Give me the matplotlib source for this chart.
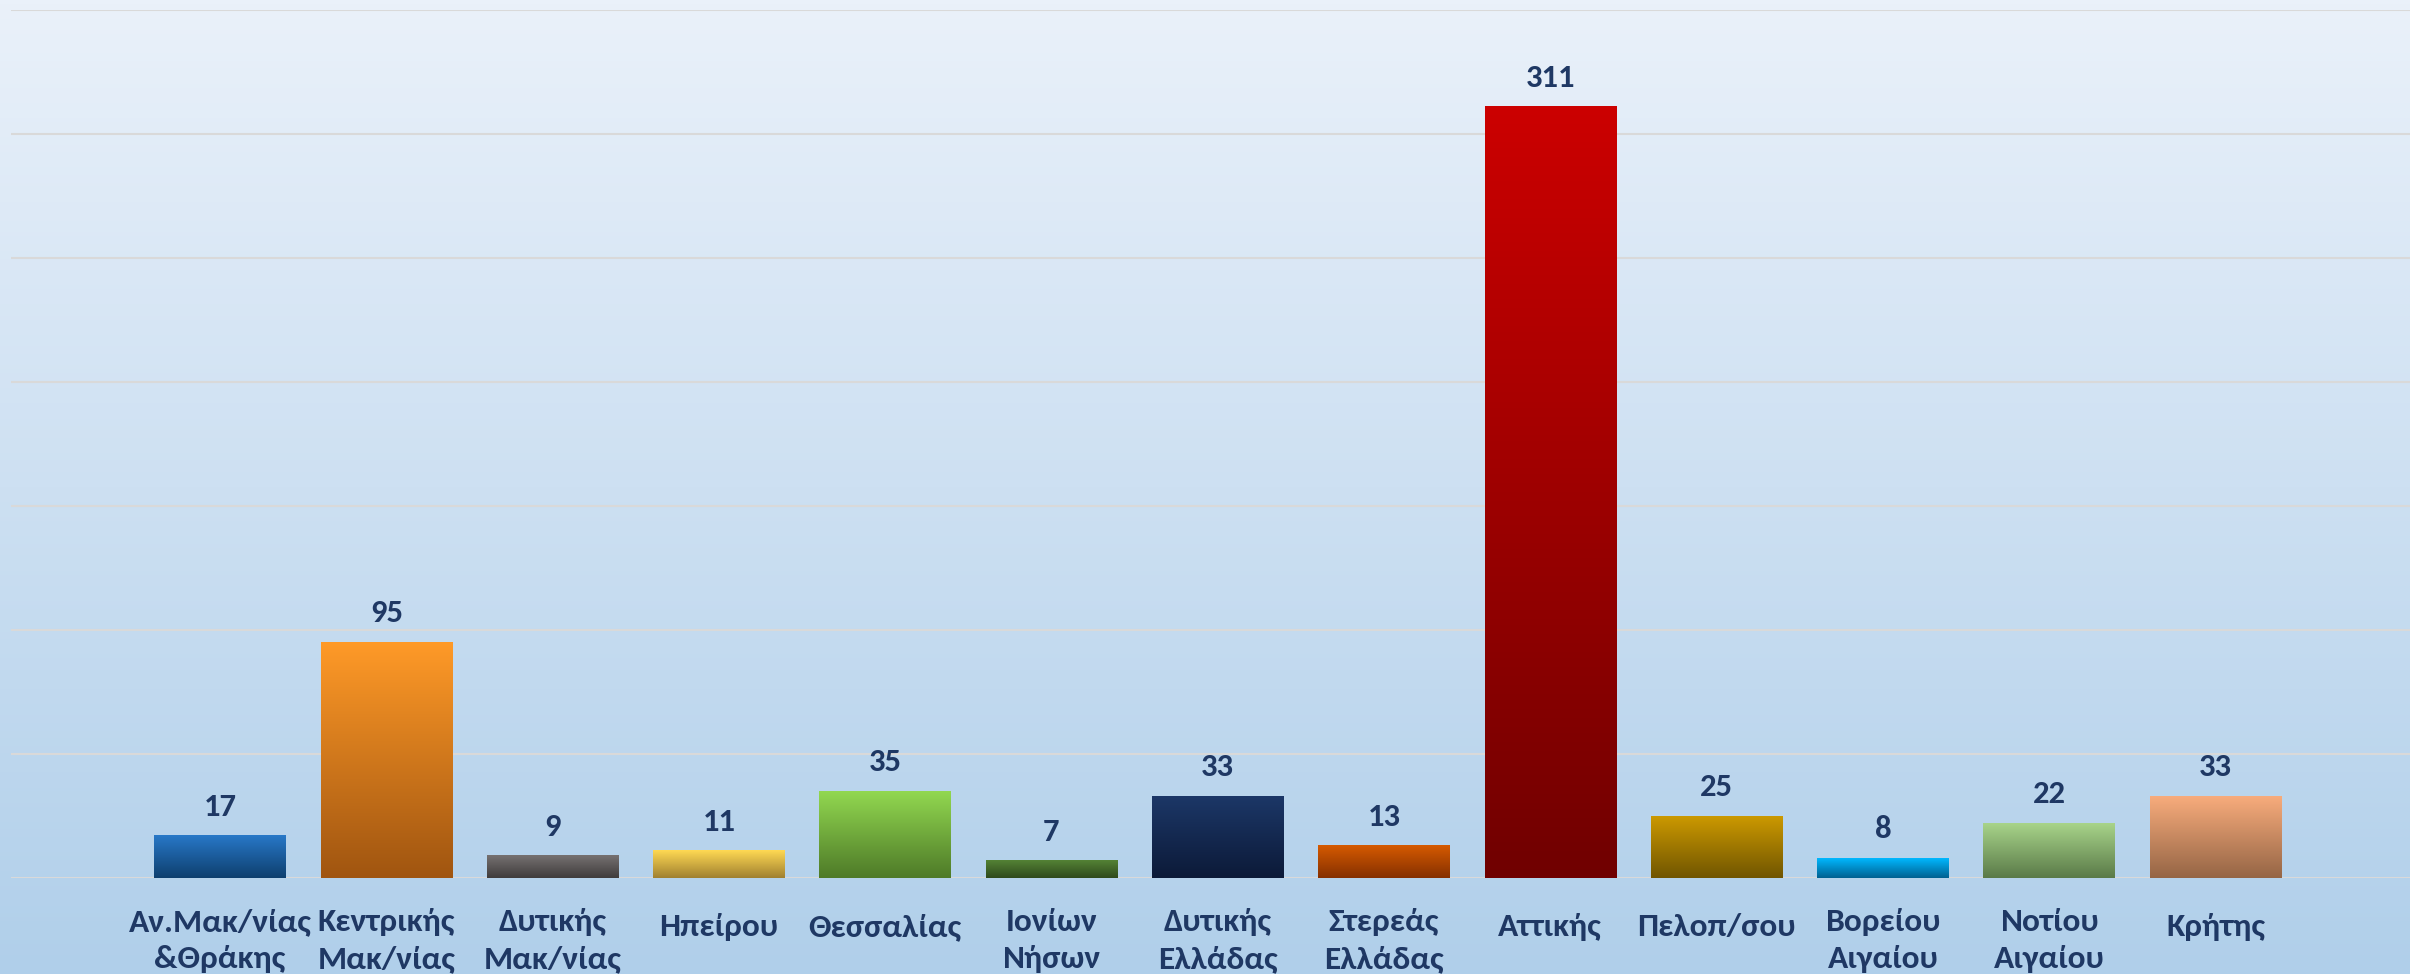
import matplotlib
matplotlib.use('Agg')
import matplotlib.pyplot as plt
from matplotlib.colors import LinearSegmentedColormap
from matplotlib.transforms import ScaledTranslation
import numpy as np

plt.rcParams['font.family'] = ['Carlito', 'DejaVu Sans']

regions = ['Αν.Μακ/νίας\n&Θράκης', 'Κεντρικής\nΜακ/νίας', 'Δυτικής\nΜακ/νίας', 'Ηπείρου',
           'Θεσσαλίας', 'Ιονίων\nΝήσων', 'Δυτικής\nΕλλάδας', 'Στερεάς\nΕλλάδας', 'Αττικής',
           'Πελοπ/σου', 'Βορείου\nΑιγαίου', 'Νοτίου\nΑιγαίου', 'Κρήτης']
counts = [17, 95, 9, 11, 35, 7, 33, 13, 311, 25, 8, 22, 33]
top_colors = ['#2878C8', '#FF9A28', '#767171', '#FFD953', '#92D850', '#548235', '#1C3767',
              '#D65A00', '#CC0000', '#CC9900', '#00B8FF', '#A8D48A', '#F8AC7C']
bottom_colors = ['#0E3F6E', '#A05510', '#3F3C3C', '#A08030', '#4E7A28', '#2E4A1C', '#0C1A38',
                 '#853000', '#700000', '#705500', '#006090', '#5A7A48', '#956545']
text_color = '#1F3864'

fig = plt.figure(figsize=(24.1, 9.74), dpi=100)

# background gradient over the whole figure
bg = fig.add_axes([0, 0, 1, 1], zorder=-1)
bg_cmap = LinearSegmentedColormap.from_list('bg', ['#B0CFEA', '#EAF1FA'])
bg.imshow(np.linspace(0, 1, 256).reshape(-1, 1), cmap=bg_cmap, aspect='auto',
          origin='lower', extent=[0, 1, 0, 1])
bg.axis('off')

ax = fig.add_axes([11 / 2410, 1 - 878 / 974, 1 - 11 / 2410, 868 / 974])
ax.patch.set_alpha(0)

x = np.arange(len(regions))
bars = ax.bar(x, counts, width=0.79, color='none', zorder=3)

# vertical gradient inside each bar
grad = np.linspace(0, 1, 256).reshape(-1, 1)
for rect, c_top, c_bot in zip(bars, top_colors, bottom_colors):
    cmap = LinearSegmentedColormap.from_list('bar', [c_bot, c_top])
    x0, w, h = rect.get_x(), rect.get_width(), rect.get_height()
    ax.imshow(grad, cmap=cmap, aspect='auto', origin='lower',
              extent=[x0, x0 + w, 0, h], zorder=3)
    ax.annotate(f'{h:g}', xy=(x0 + w / 2, h), xytext=(0, 14.5),
                textcoords='offset points', ha='center', va='baseline',
                fontsize=23.5, fontweight='bold', color=text_color)

ax.set_xlim(-1.257, 13.17)
ax.set_ylim(0, 350)
ax.set_yticks(np.arange(0, 351, 50))
ax.yaxis.grid(True, color='#D9D9D9', linewidth=1.5, zorder=0)
ax.set_axisbelow(True)
ax.tick_params(axis='y', left=False, labelleft=False)
ax.set_xticks(x)
ax.set_xticklabels(regions, fontsize=24, fontweight='bold', color=text_color,
                   linespacing=1.4)
ax.tick_params(axis='x', bottom=False, pad=18)
# one-line labels sit a little lower than the wrapped ones
for lbl in ax.get_xticklabels():
    if '\n' not in lbl.get_text():
        lbl.set_transform(lbl.get_transform() + ScaledTranslation(0, -0.05, fig.dpi_scale_trans))
for s in ax.spines.values():
    s.set_visible(False)

fig.savefig('out.png', dpi=100)
